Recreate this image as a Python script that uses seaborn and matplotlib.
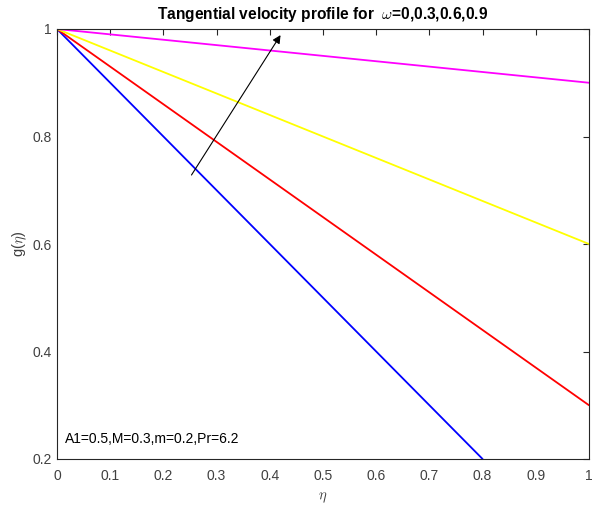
import matplotlib
matplotlib.use("Agg")
import matplotlib.pyplot as plt
import seaborn as sns
import pandas as pd

eta = [0.0, 0.1, 0.2, 0.3, 0.4, 0.5, 0.6, 0.7, 0.8, 0.9, 1.0]
g_w0 = [1.0, 0.90, 0.80, 0.70, 0.60, 0.50, 0.40, 0.30, 0.20]
g_w03 = [1.0, 0.93, 0.86, 0.79, 0.72, 0.65, 0.58, 0.51, 0.44, 0.37, 0.30]
g_w06 = [1.0, 0.96, 0.92, 0.88, 0.84, 0.80, 0.76, 0.72, 0.68, 0.64, 0.60]
g_w09 = [1.0, 0.99, 0.98, 0.97, 0.96, 0.95, 0.94, 0.93, 0.92, 0.91, 0.90]
series_names = ["0", "0.3", "0.6", "0.9"]
series_colors = ["#0000ff", "#ff0000", "#ffff00", "#ff00ff"]

x_ticks = [0, 0.1, 0.2, 0.3, 0.4, 0.5, 0.6, 0.7, 0.8, 0.9, 1]
x_tick_labels = ["0", "0.1", "0.2", "0.3", "0.4", "0.5", "0.6", "0.7", "0.8", "0.9", "1"]
y_ticks = [0.2, 0.4, 0.6, 0.8, 1]
y_tick_labels = ["0.2", "0.4", "0.6", "0.8", "1"]

sns.set_style("white")
plt.rcParams["font.family"] = ["Liberation Sans", "DejaVu Sans"]
plt.rcParams["mathtext.fontset"] = "cm"

fig = plt.figure(figsize=(5.92, 5.08), dpi=100)
ax = fig.add_axes([57 / 592, 1 - 459 / 508, 532 / 592, 430 / 508])

all_g = [g_w0, g_w03, g_w06, g_w09]
for name, vals, col in zip(series_names, all_g, series_colors):
    df = pd.DataFrame({"eta": eta[:len(vals)], "g": vals})
    sns.lineplot(data=df, x="eta", y="g", color=col, linewidth=1.3, ax=ax)

ax.set_xlim(0, 1)
ax.set_ylim(0.2, 1)
ax.set_xticks(x_ticks)
ax.set_xticklabels(x_tick_labels)
ax.set_yticks(y_ticks)
ax.set_yticklabels(y_tick_labels)
ax.tick_params(direction="in", length=4, width=0.8, colors="#262626",
               labelcolor="#404040", labelsize=10, top=True, right=True)
ax.tick_params(axis="x", pad=7)
ax.tick_params(axis="y", pad=4)
for s in ax.spines.values():
    s.set_color("#262626")
    s.set_linewidth(0.8)
    s.set_visible(True)

ax.set_xlabel(r"$\eta$", fontsize=10.5, color="#404040", labelpad=6)
ax.set_ylabel(r"g($\eta$)", fontsize=10.5, color="#404040", labelpad=2)
ax.set_title(r"Tangential velocity profile for  $\omega$=0,0.3,0.6,0.9",
             fontsize=11.2, fontweight="bold", color="black", pad=7)

ax.annotate("", xy=(0.423, 0.993), xytext=(0.25, 0.724),
            arrowprops=dict(arrowstyle="-|>", color="black", lw=0.8,
                            mutation_scale=12))
ax.text(0.015, 0.237, "A1=0.5,M=0.3,m=0.2,Pr=6.2", fontsize=10,
        color="black", ha="left", va="center")

fig.savefig("out.png", dpi=100)
